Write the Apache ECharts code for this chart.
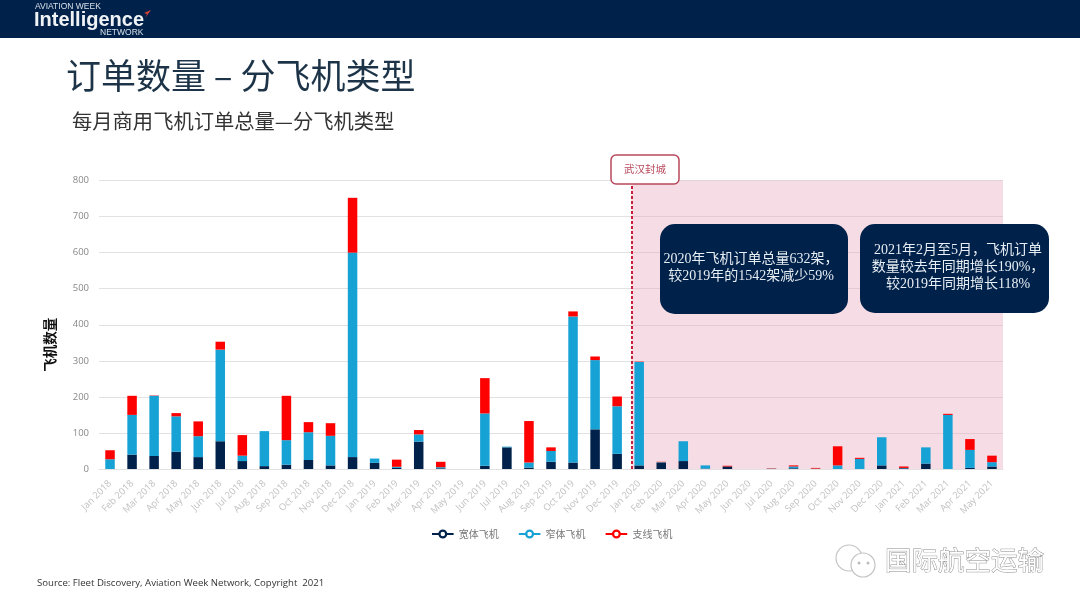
<!DOCTYPE html>
<html>
<head>
<meta charset="utf-8">
<style>html,body{margin:0;padding:0;background:#fff}#chart{width:1080px;height:608px}</style>
<script src="https://cdn.jsdelivr.net/npm/echarts@6/dist/echarts.min.js"></script>
</head>
<body>
<div id="chart"></div>
<script>
const months = [
  'Jan 2018','Feb 2018','Mar 2018','Apr 2018','May 2018','Jun 2018','Jul 2018','Aug 2018','Sep 2018','Oct 2018','Nov 2018','Dec 2018',
  'Jan 2019','Feb 2019','Mar 2019','Apr 2019','May 2019','Jun 2019','Jul 2019','Aug 2019','Sep 2019','Oct 2019','Nov 2019','Dec 2019',
  'Jan 2020','Feb 2020','Mar 2020','Apr 2020','May 2020','Jun 2020','Jul 2020','Aug 2020','Sep 2020','Oct 2020','Nov 2020','Dec 2020',
  'Jan 2021','Feb 2021','Mar 2021','Apr 2021','May 2021'
];
const wideBody = [0,40,36,48,33,77,22,8,12,25,10,33, 17,3,76,2,0,9,60,4,20,18,110,42, 10,18,22,1,7,0,0,2,0,0,0,10, 2,15,0,3,7];
const narrowBody = [27,110,167,98,58,254,15,97,68,77,82,567, 12,3,20,3,0,145,2,14,30,405,192,132, 287,1,55,9,0,0,1,5,1,10,28,78, 1,45,150,50,12];
const regional = [25,53,1,9,41,22,57,0,123,28,35,152, 0,20,12,15,0,98,0,115,10,14,10,27, 1,1,0,0,2,0,1,3,2,53,3,0, 4,0,3,30,18];
const yTicks = { min: 0, max: 800, interval: 100 };
const lockdownPos = 24.15; // just left of the Jan 2020 bar
const seriesNames = ['宽体飞机', '窄体飞机', '支线飞机'];
const seriesColors = ['#00214a', '#17a2d6', '#fd0000'];

const cjk = '"Noto Sans CJK SC", sans-serif';
const mixedSerif = '"Liberation Serif", "Noto Sans CJK SC", serif';
const legendIcon = 'path://M0 4H7.5V6H0ZM16.5 4H24V6H16.5ZM12 0A5 5 0 1 1 12 10A5 5 0 1 1 12 0ZM12 2.5A2.5 2.5 0 1 0 12 7.5A2.5 2.5 0 1 0 12 2.5Z';

// rounded box plus a separate centred text on top of it
function callout(x, y, w, h, text, textX, textY) {
  return [
    { type: 'rect', z: 20, shape: { x, y, width: w, height: h, r: 15 }, style: { fill: '#00214a' } },
    {
      type: 'text', z: 21, x: textX, y: textY,
      style: { text, fill: '#e6edf3', font: '14px ' + mixedSerif, align: 'center', verticalAlign: 'middle', lineHeight: 17 },
    },
  ];
}

const chart = echarts.init(document.getElementById('chart'));

chart.setOption({
  animation: false,
  backgroundColor: '#fff',
  textStyle: { fontFamily: cjk },
  grid: { left: 99, right: 77, top: 180.5, bottom: 139 },
  legend: {
    left: 427, top: 524,
    data: seriesNames.map(name => ({ name, icon: legendIcon })),
    itemWidth: 22, itemHeight: 9, itemGap: 20,
    textStyle: { color: '#777', fontSize: 10, fontFamily: cjk },
  },
  xAxis: [
    {
      type: 'category', data: months,
      axisTick: { show: false },
      axisLine: { lineStyle: { color: '#e2e2e2' } },
      axisLabel: { rotate: 45, color: '#c2c2c2', fontSize: 9.5, fontFamily: '"Open Sans", sans-serif', interval: 0, margin: 13 },
    },
    { type: 'value', min: 0, max: months.length, show: false },
  ],
  yAxis: {
    type: 'value', ...yTicks,
    name: '飞机数量', nameLocation: 'middle', nameGap: 42, nameRotate: 90,
    nameTextStyle: { color: '#111', fontSize: 13.5, fontWeight: 'bold', fontFamily: cjk, padding: [0, 40, 0, 0] },
    axisLine: { show: false }, axisTick: { show: false },
    axisLabel: { color: '#888', fontSize: 9.5, fontFamily: '"Open Sans", sans-serif', margin: 10 },
    splitLine: { lineStyle: { color: '#e2e2e2' } },
  },
  series: [
    ...[wideBody, narrowBody, regional].map((data, i) => ({
      name: seriesNames[i], type: 'bar', stack: 'orders', data,
      barWidth: 9.5, z: 3,
      itemStyle: { color: seriesColors[i] },
    })),
    {
      type: 'line', xAxisIndex: 1, data: [], silent: true,
      markArea: {
        silent: true,
        itemStyle: { color: 'rgba(232,167,187,0.4)' },
        data: [[{ xAxis: lockdownPos, yAxis: yTicks.max }, { xAxis: months.length, yAxis: yTicks.min }]],
      },
      markLine: {
        silent: true, symbol: 'none', label: { show: false },
        lineStyle: { color: '#c8203a', type: [3, 2], width: 2 },
        data: [{ xAxis: lockdownPos }],
      },
    },
  ],
  graphic: [
    { type: 'rect', z: 10, shape: { x: 0, y: 0, width: 1080, height: 38 }, style: { fill: '#00214a' } },
    { type: 'text', z: 11, x: 35, y: 2, style: { text: 'AVIATION WEEK', fill: '#d8e0e8', font: '8.5px "Liberation Sans", sans-serif' } },
    { type: 'text', z: 11, x: 34, y: 10, style: { text: 'Intelligence', fill: '#f0f3f6', font: 'bold 20px "Liberation Sans", sans-serif' } },
    { type: 'text', z: 11, x: 100, y: 28, style: { text: 'NETWORK', fill: '#d8e0e8', font: '8.5px "Liberation Sans", sans-serif' } },
    { type: 'polygon', z: 11, shape: { points: [[151, 10], [144, 13], [147, 14], [145, 18]] }, style: { fill: '#d8413c' } },

    { type: 'text', x: 66, y: 58, style: { text: '订单数量 – 分飞机类型', fill: '#1d3448', font: '35px ' + cjk } },
    { type: 'text', x: 72, y: 111, style: { text: '每月商用飞机订单总量—分飞机类型', fill: '#333', font: '20.3px ' + cjk } },

    { type: 'rect', z: 20, shape: { x: 611, y: 155, width: 68, height: 29, r: 5 }, style: { fill: '#fff', stroke: '#b8485c', lineWidth: 1.5 } },
    { type: 'text', z: 21, x: 645, y: 169.5, style: { text: '武汉封城', fill: '#b8485c', font: '10.5px ' + cjk, align: 'center', verticalAlign: 'middle' } },
    ...callout(660, 224, 188, 90, '2020年飞机订单总量632架，\n较2019年的1542架减少59%', 751, 268),
    ...callout(860, 224, 189, 89, '2021年2月至5月，飞机订单\n数量较去年同期增长190%，\n较2019年同期增长118%', 958, 267),

    { type: 'text', x: 37, y: 578, style: { text: 'Source: Fleet Discovery, Aviation Week Network, Copyright  2021', fill: '#333', font: '9.6px "Open Sans", sans-serif' } },

    // watermark
    { type: 'circle', z: 12, shape: { cx: 849, cy: 558, r: 13 }, style: { fill: '#fff', stroke: '#c4c4c4', lineWidth: 1.2 } },
    { type: 'circle', z: 12, shape: { cx: 863, cy: 565, r: 12 }, style: { fill: '#fff', stroke: '#c4c4c4', lineWidth: 1.2 } },
    { type: 'circle', z: 13, shape: { cx: 859, cy: 563, r: 1.5 }, style: { fill: '#bbb' } },
    { type: 'circle', z: 13, shape: { cx: 868, cy: 563, r: 1.5 }, style: { fill: '#bbb' } },
    { type: 'text', z: 12, x: 885, y: 547, style: { text: '国际航空运输', fill: '#fff', stroke: '#8a8a8a', lineWidth: 0.9, font: '26.5px ' + cjk } },
  ],
});
</script>
</body>
</html>
